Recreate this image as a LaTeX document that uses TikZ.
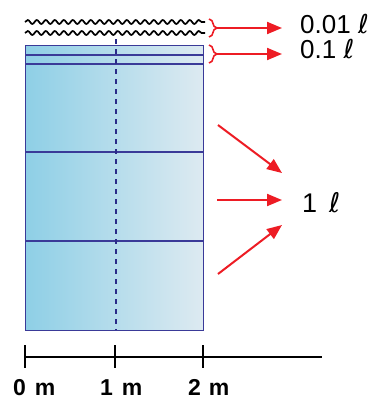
\documentclass[tikz,border=0pt]{standalone}
\usepackage{fontspec}
\setmainfont{Liberation Sans}
\newfontfamily\dvfont{DejaVu Sans}
\newcommand{\litre}{{\dvfont\itshape ℓ}}
\usetikzlibrary{arrows.meta,decorations.pathreplacing,decorations.pathmorphing}
\definecolor{lblue}{HTML}{8ECFE6}
\definecolor{rblue}{HTML}{DDEAF1}
\definecolor{bord}{HTML}{3A3A98}
\definecolor{navy}{HTML}{2A2A88}
\definecolor{ared}{HTML}{ED1C24}
\begin{document}
\begin{tikzpicture}[x=1pt,y=-1pt,
  redarrow/.style={draw=ared,line width=2pt,-{Triangle[length=15pt,width=12pt]}},
  redbrace/.style={draw=ared,line width=1.6pt,decorate,decoration={brace,amplitude=8pt}},
  wave/.style={draw=black,line width=1.7pt,decorate,decoration={snake,segment length=9pt,amplitude=2pt}},
  biglabel/.style={anchor=base west,inner sep=0pt,font=\fontsize{26}{30}\selectfont},
  axlabel/.style={anchor=base west,inner sep=0pt,font=\bfseries\fontsize{23}{27}\selectfont},
  divline/.style={draw=bord,line width=1.2pt},
  tick/.style={draw=black,line width=2pt}]
\useasboundingbox (0,0) rectangle (378,399);
% tank
\shade[left color=lblue,right color=rblue] (25,45) rectangle (203,330);
\node[draw=bord,line width=1pt,minimum width=178pt,minimum height=285pt,inner sep=0pt,anchor=north west] (tank) at (25,45) {};
\coordinate (l1a) at (25,55); \coordinate (l1b) at (203,55);
\coordinate (l2a) at (25,64); \coordinate (l2b) at (203,64);
\coordinate (l3a) at (25,152); \coordinate (l3b) at (203,152);
\coordinate (l4a) at (25,241); \coordinate (l4b) at (203,241);
\draw[divline] (l1a) -- (l1b);
\draw[divline] (l2a) -- (l2b);
\draw[divline] (l3a) -- (l3b);
\draw[divline] (l4a) -- (l4b);
\coordinate (dtop) at (116,39); \coordinate (dbot) at (116,330);
\draw[navy,line width=2pt,dash pattern=on 5pt off 5pt] (dtop) -- (dbot);
% waves
\coordinate (w1a) at (25,22); \coordinate (w1b) at (205,22);
\coordinate (w2a) at (25,33); \coordinate (w2b) at (205,33);
\draw[wave] (w1a) -- (w1b);
\draw[wave] (w2a) -- (w2b);
% braces
\coordinate (b1t) at (209,19); \coordinate (b1b) at (209,37);
\coordinate (b2t) at (209,45); \coordinate (b2b) at (209,63);
\draw[redbrace] (b1t) -- (b1b);
\draw[redbrace] (b2t) -- (b2b);
% labels
\node[biglabel] (t1) at (300,33) {0.01 \litre};
\node[biglabel] (t2) at (300,58) {0.1 \litre};
\node[biglabel,font=\fontsize{27}{31}\selectfont] (t3) at (302,212) {1\hspace{12pt}\litre};
\coordinate (a1s) at (217,28); \coordinate (a1e) at (282,28);
\coordinate (a2s) at (217,54); \coordinate (a2e) at (282,54);
\draw[redarrow] (a1s) -- (a1e);
\draw[redarrow] (a2s) -- (a2e);
\coordinate (c1s) at (218,125); \coordinate (c1e) at (282,173);
\coordinate (c2s) at (217,200); \coordinate (c2e) at (282,200);
\coordinate (c3s) at (218,274); \coordinate (c3e) at (282,225);
\draw[redarrow] (c1s) -- (c1e);
\draw[redarrow] (c2s) -- (c2e);
\draw[redarrow] (c3s) -- (c3e);
% axis
\coordinate (ax0) at (25,357); \coordinate (ax1) at (322,357);
\draw[tick] (ax0) -- (ax1);
\coordinate (k0t) at (25,345); \coordinate (k0b) at (25,368);
\coordinate (k1t) at (115,345); \coordinate (k1b) at (115,368);
\coordinate (k2t) at (203,345); \coordinate (k2b) at (203,368);
\draw[tick] (k0t) -- (k0b);
\draw[tick] (k1t) -- (k1b);
\draw[tick] (k2t) -- (k2b);
\node[axlabel] (m0) at (13,395) {0\hspace{9pt}m};
\node[axlabel] (m1) at (100,395) {1\hspace{9pt}m};
\node[axlabel] (m2) at (188,395) {2\hspace{8pt}m};
\end{tikzpicture}
\end{document}
